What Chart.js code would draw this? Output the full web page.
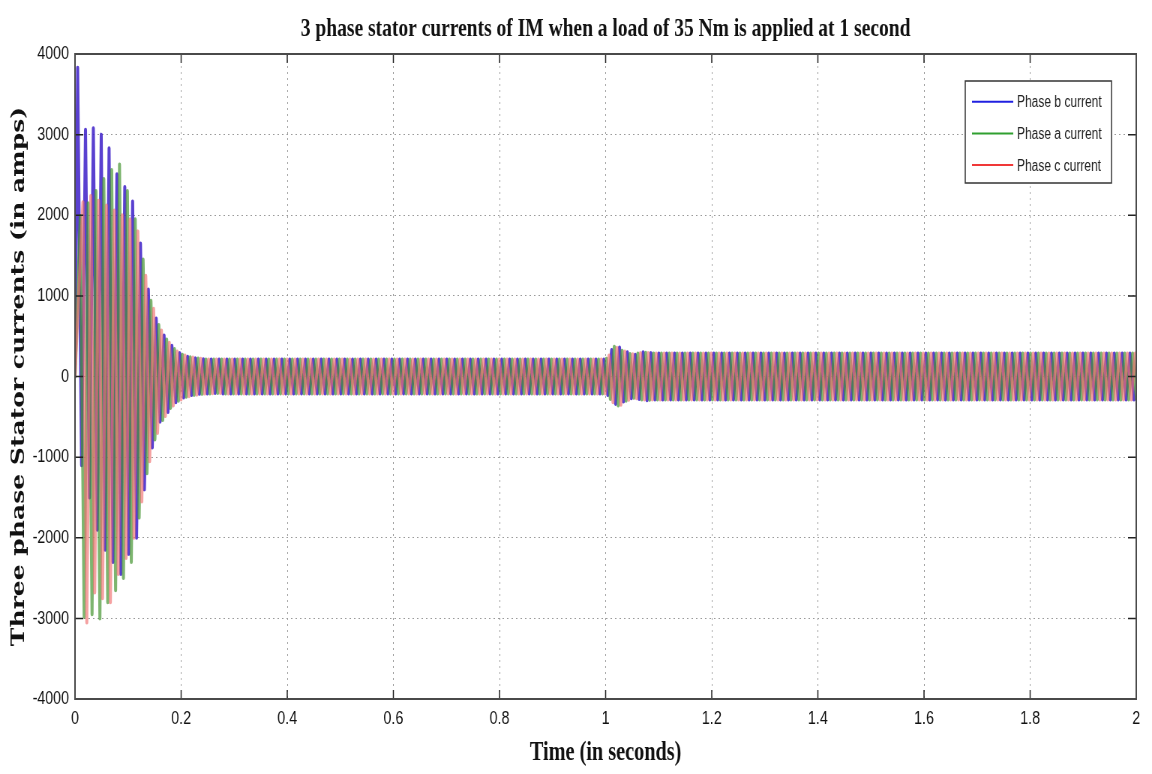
<!DOCTYPE html>
<html>
<head>
<meta charset="utf-8">
<title>3 phase stator currents of IM</title>
<script src="https://cdn.jsdelivr.net/npm/chart.js@4.4.0/dist/chart.umd.min.js"></script>
<style>
  html, body { margin: 0; padding: 0; background: #fff; overflow: hidden; }
  /* the plot is laid out wide and squeezed horizontally, like the exported figure */
  #wrap { width: 1536px; height: 774px; transform: scaleX(0.75); transform-origin: 0 0; }
</style>
</head>
<body>
<div id="wrap"><canvas id="currents" width="1536" height="774"></canvas></div>
<script>
// ========== Data ==========

const TITLE = '3 phase stator currents of IM when a load of 35 Nm is applied at 1 second';
const X_TITLE = 'Time (in seconds)';
const Y_TITLE = 'Three phase Stator currents (in amps)';

const xTicks = [0, 0.2, 0.4, 0.6, 0.8, 1, 1.2, 1.4, 1.6, 1.8, 2];
const yTicks = [-4000, -3000, -2000, -1000, 0, 1000, 2000, 3000, 4000];

// supply period (s) and time of the first positive peak of each phase
const PERIOD = 0.0148;
const firstPeakB = 0.005;
const firstPeakA = 0.0099;
const firstPeakC = 0.0149;

// one positive peak and one negative peak per cycle (amps)
const bluePeaks = [
  3830,3060,3080,3000,2830,2510,2350,2170,1650,1080,
  720,510,380,290,245,225,215,210,210,210,
  210,210,210,210,210,210,210,210,210,210,
  210,210,210,210,210,210,210,210,210,210,
  210,210,210,210,210,210,210,210,210,210,
  210,210,210,210,210,210,210,210,210,210,
  210,210,210,210,210,210,210,210,330,360,
  300,270,300,290,285,285,285,285,285,285,
  285,285,285,285,285,285,285,285,285,285,
  285,285,285,285,285,285,285,285,285,285,
  285,285,285,285,285,285,285,285,285,285,
  285,285,285,285,285,285,285,285,285,285,
  285,285,285,285,285,285,285,285,285,285,
  285,285,285,285,285
];
const blueTroughs = [
  -1100,-1500,-1900,-2150,-2300,-2450,-2200,-2000,-1400,-880,
  -560,-440,-320,-260,-230,-215,-210,-205,-210,-210,
  -210,-210,-210,-210,-210,-210,-210,-210,-210,-210,
  -210,-210,-210,-210,-210,-210,-210,-210,-210,-210,
  -210,-210,-210,-210,-210,-210,-210,-210,-210,-210,
  -210,-210,-210,-210,-210,-210,-210,-210,-210,-210,
  -210,-210,-210,-210,-210,-210,-210,-230,-340,-310,
  -270,-280,-295,-285,-285,-285,-285,-285,-285,-285,
  -285,-285,-285,-285,-285,-285,-285,-285,-285,-285,
  -285,-285,-285,-285,-285,-285,-285,-285,-285,-285,
  -285,-285,-285,-285,-285,-285,-285,-285,-285,-285,
  -285,-285,-285,-285,-285,-285,-285,-285,-285,-285,
  -285,-285,-285,-285,-285,-285,-285,-285,-285,-285,
  -285,-285,-285,-285,-285
];
const greenPeaks = [
  1990,2150,2300,2450,2560,2630,2300,1950,1450,940,
  640,460,340,270,240,222,212,210,210,210,
  210,210,210,210,210,210,210,210,210,210,
  210,210,210,210,210,210,210,210,210,210,
  210,210,210,210,210,210,210,210,210,210,
  210,210,210,210,210,210,210,210,210,210,
  210,210,210,210,210,210,210,220,370,320,
  280,285,295,285,285,285,285,285,285,285,
  285,285,285,285,285,285,285,285,285,285,
  285,285,285,285,285,285,285,285,285,285,
  285,285,285,285,285,285,285,285,285,285,
  285,285,285,285,285,285,285,285,285,285,
  285,285,285,285,285,285,285,285,285,285,
  285,285,285,285,285
];
const greenTroughs = [
  -2980,-2950,-3000,-2800,-2650,-2500,-2300,-1750,-1200,-780,
  -540,-390,-300,-250,-228,-215,-210,-205,-210,-210,
  -210,-210,-210,-210,-210,-210,-210,-210,-210,-210,
  -210,-210,-210,-210,-210,-210,-210,-210,-210,-210,
  -210,-210,-210,-210,-210,-210,-210,-210,-210,-210,
  -210,-210,-210,-210,-210,-210,-210,-210,-210,-210,
  -210,-210,-210,-210,-210,-210,-210,-280,-360,-300,
  -265,-285,-290,-285,-285,-285,-285,-285,-285,-285,
  -285,-285,-285,-285,-285,-285,-285,-285,-285,-285,
  -285,-285,-285,-285,-285,-285,-285,-285,-285,-285,
  -285,-285,-285,-285,-285,-285,-285,-285,-285,-285,
  -285,-285,-285,-285,-285,-285,-285,-285,-285,-285,
  -285,-285,-285,-285,-285,-285,-285,-285,-285,-285,
  -285,-285,-285,-285,-285
];
const redPeaks = [
  2160,2240,2180,2120,2060,2000,1950,1800,1250,840,
  570,420,310,260,235,220,212,210,210,210,
  210,210,210,210,210,210,210,210,210,210,
  210,210,210,210,210,210,210,210,210,210,
  210,210,210,210,210,210,210,210,210,210,
  210,210,210,210,210,210,210,210,210,210,
  210,210,210,210,210,210,210,260,355,310,
  275,290,290,285,285,285,285,285,285,285,
  285,285,285,285,285,285,285,285,285,285,
  285,285,285,285,285,285,285,285,285,285,
  285,285,285,285,285,285,285,285,285,285,
  285,285,285,285,285,285,285,285,285,285,
  285,285,285,285,285,285,285,285,285,285,
  285,285,285,285,285
];
const redTroughs = [
  -3050,-2680,-2750,-2800,-2450,-2250,-2000,-1550,-1050,-700,
  -490,-360,-285,-245,-225,-212,-208,-205,-210,-210,
  -210,-210,-210,-210,-210,-210,-210,-210,-210,-210,
  -210,-210,-210,-210,-210,-210,-210,-210,-210,-210,
  -210,-210,-210,-210,-210,-210,-210,-210,-210,-210,
  -210,-210,-210,-210,-210,-210,-210,-210,-210,-210,
  -210,-210,-210,-210,-210,-210,-210,-320,-350,-290,
  -270,-285,-285,-285,-285,-285,-285,-285,-285,-285,
  -285,-285,-285,-285,-285,-285,-285,-285,-285,-285,
  -285,-285,-285,-285,-285,-285,-285,-285,-285,-285,
  -285,-285,-285,-285,-285,-285,-285,-285,-285,-285,
  -285,-285,-285,-285,-285,-285,-285,-285,-285,-285,
  -285,-285,-285,-285,-285,-285,-285,-285,-285,-285,
  -285,-285,-285,-285,-285
];

const BLUE = 'rgba(60, 30, 200, 0.85)';
const GREEN = 'rgba(70, 150, 50, 0.7)';
const RED = 'rgba(240, 110, 110, 0.65)';

// ========== Helpers ==========

// turn per-cycle peaks into a time series: start at 0, then peak, trough, peak...
function buildWave(firstPeak, peaks, troughs) {
    const pts = [{ x: 0, y: 0 }];
    for (let k = 0; k < peaks.length; k++) {
        pts.push({ x: firstPeak + k * PERIOD, y: peaks[k] });
        pts.push({ x: firstPeak + k * PERIOD + PERIOD / 2, y: troughs[k] });
    }
    return pts;
}

// box, inward ticks, title and legend in the old plotting style
const figureDecor = {
    id: 'figureDecor',
    afterDraw(chart) {
        const { ctx, chartArea: a, scales: { x, y } } = chart;
        ctx.save();

        ctx.strokeStyle = '#222';
        ctx.lineWidth = 1.5;
        ctx.beginPath();
        xTicks.forEach(v => {
            const px = x.getPixelForValue(v);
            ctx.moveTo(px, a.top); ctx.lineTo(px, a.top + 9);
            ctx.moveTo(px, a.bottom); ctx.lineTo(px, a.bottom - 9);
        });
        yTicks.forEach(v => {
            const py = y.getPixelForValue(v);
            ctx.moveTo(a.left, py); ctx.lineTo(a.left + 11, py);
            ctx.moveTo(a.right, py); ctx.lineTo(a.right - 11, py);
        });
        ctx.stroke();

        ctx.strokeStyle = '#4a4a4a';
        ctx.lineWidth = 2;
        ctx.strokeRect(a.left, a.top, a.right - a.left, a.bottom - a.top);

        ctx.fillStyle = '#111';
        ctx.font = 'bold 26px "Liberation Serif"';
        ctx.textAlign = 'center';
        ctx.textBaseline = 'alphabetic';
        ctx.fillText(TITLE, (a.left + a.right) / 2, 36);

        // legend box, top right inside the axes
        const bx = a.right - 228, by = a.top + 27, bw = 195, bh = 102;
        ctx.fillStyle = '#fff';
        ctx.fillRect(bx, by, bw, bh);
        ctx.strokeStyle = '#333';
        ctx.lineWidth = 1.5;
        ctx.strokeRect(bx, by, bw, bh);
        ctx.font = '16px "Liberation Sans"';
        ctx.textAlign = 'left';
        ctx.textBaseline = 'middle';
        const legendColors = ['#2020e0', '#30a030', '#f03838'];
        chart.data.datasets.forEach((ds, i) => {
            const ly = by + 20.7 + i * 31.7;
            ctx.strokeStyle = legendColors[i];
            ctx.lineWidth = 2;
            ctx.beginPath();
            ctx.moveTo(bx + 9, ly);
            ctx.lineTo(bx + 64, ly);
            ctx.stroke();
            ctx.fillStyle = '#222';
            ctx.fillText(ds.label, bx + 69, ly + 1);
        });

        ctx.restore();
    }
};

// ========== Chart ==========

const tickFont = { family: 'Liberation Sans', size: 19 };
const gridOpts = { color: '#9a9a9a', lineWidth: 1, drawTicks: false };

new Chart(document.getElementById('currents'), {
    type: 'line',
    data: {
        datasets: [
            { label: 'Phase b current', data: buildWave(firstPeakB, bluePeaks, blueTroughs), borderColor: BLUE, order: 2 },
            { label: 'Phase a current', data: buildWave(firstPeakA, greenPeaks, greenTroughs), borderColor: GREEN, order: 1 },
            { label: 'Phase c current', data: buildWave(firstPeakC, redPeaks, redTroughs), borderColor: RED, order: 0 }
        ]
    },
    options: {
        responsive: false,
        animation: false,
        devicePixelRatio: 1,
        layout: { padding: { top: 54, right: 21, bottom: 0, left: 0 } },
        elements: {
            point: { radius: 0 },
            line: { borderWidth: 4, tension: 0, borderJoinStyle: 'round', borderCapStyle: 'round' }
        },
        plugins: {
            legend: { display: false },
            tooltip: { enabled: false },
            title: { display: false }
        },
        scales: {
            x: {
                type: 'linear',
                min: 0,
                max: 2,
                afterFit: s => { s.height = 75; },
                afterBuildTicks: s => { s.ticks = xTicks.map(v => ({ value: v })); },
                ticks: {
                    padding: 8,
                    color: '#111',
                    font: tickFont,
                    maxRotation: 0,
                    autoSkip: false,
                    callback: v => String(v)
                },
                grid: gridOpts,
                border: { display: false, dash: [2, 4] },
                title: {
                    display: true,
                    text: X_TITLE,
                    color: '#111',
                    font: { family: 'Liberation Serif', size: 27, weight: 'bold' },
                    padding: { top: 0, bottom: 5 }
                }
            },
            y: {
                min: -4000,
                max: 4000,
                afterFit: s => { s.width = 100; },
                afterBuildTicks: s => { s.ticks = yTicks.map(v => ({ value: v })); },
                ticks: {
                    padding: 8,
                    color: '#111',
                    font: tickFont,
                    callback: v => String(v)
                },
                grid: gridOpts,
                border: { display: false, dash: [2, 4] },
                title: {
                    display: true,
                    text: Y_TITLE,
                    color: '#111',
                    font: { family: 'DejaVu Serif', size: 25, weight: 'bold' },
                    padding: { top: 10, bottom: 0 }
                }
            }
        }
    },
    plugins: [figureDecor]
});
</script>
</body>
</html>
